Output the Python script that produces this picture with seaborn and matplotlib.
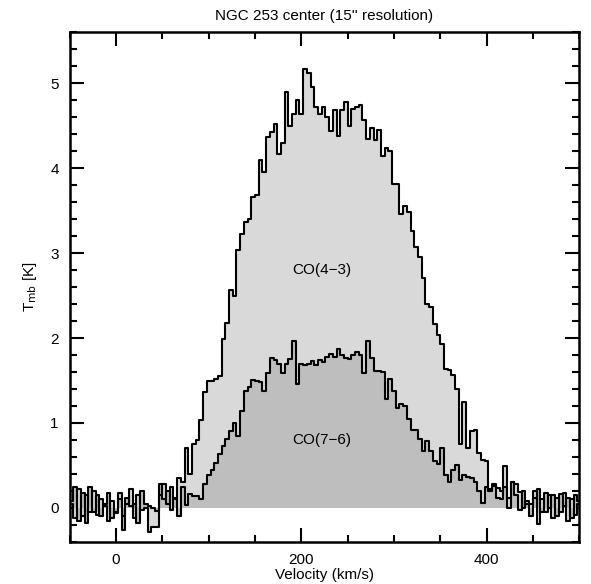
import matplotlib
matplotlib.use("Agg")
import matplotlib.pyplot as plt
import numpy as np
import seaborn as sns
from matplotlib.ticker import MultipleLocator

# channel centres (km/s), 4 km/s channels
velocity = np.arange(-48, 501, 4)

co43 = [
    0.05, -0.12, 0.22, -0.10, 0.15, -0.05, 0.20, -0.08, 0.10, 0.02,
    -0.15, 0.08, -0.06, 0.18, -0.10, 0.05, 0.22, -0.12, 0.15, -0.02,
    0.00, -0.28, -0.22, -0.22, 0.15, 0.28, 0.05, 0.25, 0.10, 0.35,
    0.30, 0.71, 0.40, 0.75, 0.80, 1.04, 1.36, 1.49, 1.50, 1.52,
    1.55, 1.99, 2.18, 2.56, 2.50, 3.03, 3.23, 3.36, 3.40, 3.66,
    3.68, 4.09, 3.95, 4.36, 4.42, 4.52, 4.17, 4.30, 4.89, 4.50,
    4.64, 4.80, 4.64, 5.17, 5.12, 4.95, 4.72, 4.64, 4.72, 4.60,
    4.44, 4.68, 4.38, 4.68, 4.78, 4.49, 4.70, 4.72, 4.74, 4.56,
    4.34, 4.47, 4.33, 4.45, 4.14, 4.24, 4.20, 3.81, 3.81, 3.46,
    3.55, 3.48, 3.26, 3.07, 2.95, 2.71, 2.40, 2.36, 2.16, 2.04,
    1.93, 1.63, 1.62, 1.57, 1.40, 0.75, 1.25, 0.70, 0.90, 0.92,
    0.65, 0.57, 0.55, 0.20, 0.26, 0.24, 0.20, 0.49, 0.12, 0.31,
    0.28, 0.19, 0.00, 0.08, 0.05, 0.20, -0.19, 0.10, -0.05, 0.15,
    -0.12, 0.12, -0.05, 0.18, -0.15, 0.10, -0.08, 0.05,
]

co76 = [
    0.08, 0.25, -0.15, 0.18, -0.18, 0.25, -0.05, 0.15, -0.10, 0.05,
    0.18, -0.12, -0.05, 0.10, -0.26, 0.12, 0.02, 0.05, -0.18, 0.20,
    0.05, 0.02, 0.00, -0.04, 0.28, 0.10, 0.20, -0.02, 0.12, -0.10,
    0.25, 0.04, 0.16, 0.14, 0.14, 0.10, 0.28, 0.39, 0.45, 0.53,
    0.63, 0.73, 0.81, 0.90, 1.00, 0.85, 1.14, 1.38, 1.42, 1.51,
    1.50, 1.48, 1.38, 1.59, 1.77, 1.74, 1.70, 1.59, 1.69, 1.75,
    1.97, 1.46, 1.69, 1.68, 1.70, 1.73, 1.68, 1.74, 1.72, 1.78,
    1.81, 1.78, 1.87, 1.80, 1.77, 1.75, 1.80, 1.83, 1.80, 1.59,
    1.97, 1.77, 1.61, 1.61, 1.60, 1.28, 1.52, 1.38, 1.18, 1.22,
    1.20, 1.05, 0.92, 0.92, 0.81, 0.67, 0.79, 0.67, 0.55, 0.52,
    0.70, 0.39, 0.31, 0.45, 0.51, 0.33, 0.39, 0.37, 0.35, 0.30,
    0.20, 0.06, 0.25, 0.22, 0.28, 0.12, 0.10, 0.25, 0.00, 0.30,
    0.15, -0.02, 0.20, 0.05, -0.10, 0.12, 0.22, -0.05, 0.18, 0.00,
    0.15, -0.10, 0.16, 0.02, 0.12, -0.12, 0.15, 0.08,
]

line_labels = ["CO(4\u22123)", "CO(7\u22126)"]
label_pos = [(222, 2.8), (222, 0.8)]


def main() -> None:
    sns.set_theme(style="ticks")
    plt.rcParams["font.family"] = ["Liberation Sans", "DejaVu Sans"]
    plt.rcParams["axes.linewidth"] = 1.8
    for key in ("text.color", "axes.labelcolor", "xtick.color", "ytick.color", "axes.edgecolor"):
        plt.rcParams[key] = "black"

    fig = plt.figure(figsize=(5.91, 5.84), dpi=100)
    ax = fig.add_axes([0.118, 0.072, 0.862, 0.873])

    ax.fill_between(velocity, 0, co43, step="mid", color="#d9d9d9", lw=0)
    ax.fill_between(velocity, 0, co76, step="mid", color="#bebebe", lw=0)
    sns.lineplot(x=velocity, y=co43, ax=ax, drawstyle="steps-mid", color="black", lw=1.5)
    sns.lineplot(x=velocity, y=co76, ax=ax, drawstyle="steps-mid", color="black", lw=1.5)

    for text, (xv, yv) in zip(line_labels, label_pos):
        ax.text(xv, yv, text, ha="center", va="center", fontsize=11, color="black")

    ax.set_xlim(-50, 500)
    ax.set_ylim(-0.4, 5.6)
    ax.xaxis.set_major_locator(MultipleLocator(200))
    ax.xaxis.set_minor_locator(MultipleLocator(50))
    ax.yaxis.set_major_locator(MultipleLocator(1))
    ax.yaxis.set_minor_locator(MultipleLocator(0.2))
    ax.tick_params(which="both", direction="in", top=True, right=True, width=1.5,
                   labelsize=11, colors="black")
    ax.tick_params(which="major", length=10, pad=8)
    ax.tick_params(which="minor", length=5)

    ax.set_title("NGC 253 center (15'' resolution)", fontsize=11, pad=9, color="black")
    ax.set_xlabel("Velocity (km/s)", fontsize=11, labelpad=1, color="black")
    ax.set_ylabel(r"T$_{\rm mb}$ [K]", fontsize=11, labelpad=8, color="black")
    for spine in ax.spines.values():
        spine.set_visible(True)
        spine.set_color("black")

    fig.savefig("out.png", dpi=100)
    plt.close(fig)


if __name__ == "__main__":
    main()
